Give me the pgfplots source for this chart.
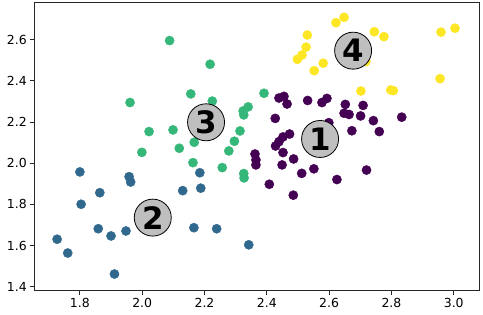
\documentclass[border=0pt]{standalone}
\usepackage{fontspec}
\setmainfont{DejaVu Sans}
\usepackage{pgfplots}
\pgfplotsset{compat=1.18}
\definecolor{vpur}{HTML}{440154}
\definecolor{vblu}{HTML}{31688E}
\definecolor{vgrn}{HTML}{35B779}
\definecolor{vyel}{HTML}{FDE725}
\begin{document}
\begin{tikzpicture}
\begin{axis}[
  scale only axis, width=444.6bp, height=288bp,
  xmin=1.655, xmax=3.082, ymin=1.381, ymax=2.780,
  xtick={1.8,2.0,2.2,2.4,2.6,2.8,3.0},
  ytick={1.4,1.6,1.8,2.0,2.2,2.4,2.6},
  /pgf/number format/.cd, fixed, fixed zerofill, precision=1, assume math mode=true,
  /pgfplots/.cd,
  tick label style={font=\fontsize{12.5}{13}\selectfont, black},
  tick align=outside, major tick length=4.4bp,
  tick style={black!85, line width=1bp},
  axis line style={black!85, line width=1bp},
  xtick pos=bottom, ytick pos=left,
  clip=false,
]
\addplot[only marks, mark=*, mark size=4.6bp, color=vpur, mark options={fill=vpur, draw=vpur}] coordinates {
(2.439,2.317) (2.455,2.325) (2.465,2.288) (2.531,2.305) (2.577,2.295) (2.593,2.315)
(2.652,2.286) (2.648,2.243) (2.664,2.237) (2.709,2.281) (2.701,2.230) (2.742,2.207)
(2.833,2.224) (2.427,2.218) (2.673,2.158) (2.761,2.154) (2.599,2.197) (2.473,2.142)
(2.452,2.128) (2.439,2.105) (2.428,2.084) (2.452,2.052) (2.362,2.045) (2.365,2.016)
(2.365,1.992) (2.486,2.021) (2.449,1.992) (2.551,1.973) (2.512,1.951) (2.408,1.898)
(2.485,1.845) (2.625,1.921) (2.720,1.967)
};
\addplot[only marks, mark=*, mark size=4.6bp, color=vblu, mark options={fill=vblu, draw=vblu}] coordinates {
(1.800,1.958) (1.958,1.935) (1.963,1.909) (1.864,1.857) (1.804,1.801) (1.859,1.682)
(1.900,1.647) (1.948,1.671) (1.727,1.631) (1.761,1.564) (1.911,1.462) (2.185,1.954)
(2.130,1.867) (2.188,1.879) (2.166,1.687) (2.239,1.682) (2.342,1.604)
};
\addplot[only marks, mark=*, mark size=4.6bp, color=vgrn, mark options={fill=vgrn, draw=vgrn}] coordinates {
(2.088,2.596) (2.218,2.481) (2.156,2.337) (1.961,2.295) (2.225,2.302) (2.391,2.340)
(2.340,2.274) (2.324,2.254) (2.326,2.235) (2.022,2.154) (2.099,2.162) (2.119,2.073)
(2.167,2.102) (2.314,2.157) (2.296,2.107) (2.278,2.060) (1.999,2.053) (2.163,2.003)
(2.257,1.979) (2.326,1.950) (2.327,1.929)
};
\addplot[only marks, mark=*, mark size=4.6bp, color=vyel, mark options={fill=vyel, draw=vyel}] coordinates {
(2.622,2.683) (2.648,2.709) (2.530,2.623) (2.526,2.564) (2.513,2.526) (2.498,2.505)
(2.581,2.486) (2.552,2.450) (2.745,2.639) (2.776,2.615) (2.959,2.637) (3.004,2.656)
(2.956,2.411) (2.702,2.351) (2.798,2.356) (2.806,2.353) (2.718,2.494)
};
\addplot[only marks, mark=*, mark size=18.5bp, mark options={fill=gray!50, draw=black, line width=0.8bp}] coordinates {
(2.571,2.118) (2.034,1.736) (2.205,2.199) (2.677,2.547)
};
\addplot[draw=none, mark=none, nodes near coords, point meta=explicit symbolic,
  nodes near coords style={anchor=center, inner sep=0pt, font=\bfseries\fontsize{31}{31}\selectfont, text=black}] coordinates {
(2.571,2.118) [1] (2.034,1.736) [2] (2.205,2.199) [3] (2.677,2.547) [4]
};
\end{axis}
\pgfresetboundingbox
\path ([shift={(-34.7bp,-24.3bp)}]current axis.south west) rectangle ([shift={(3.7bp,2.7bp)}]current axis.north east);
\end{tikzpicture}
\end{document}
